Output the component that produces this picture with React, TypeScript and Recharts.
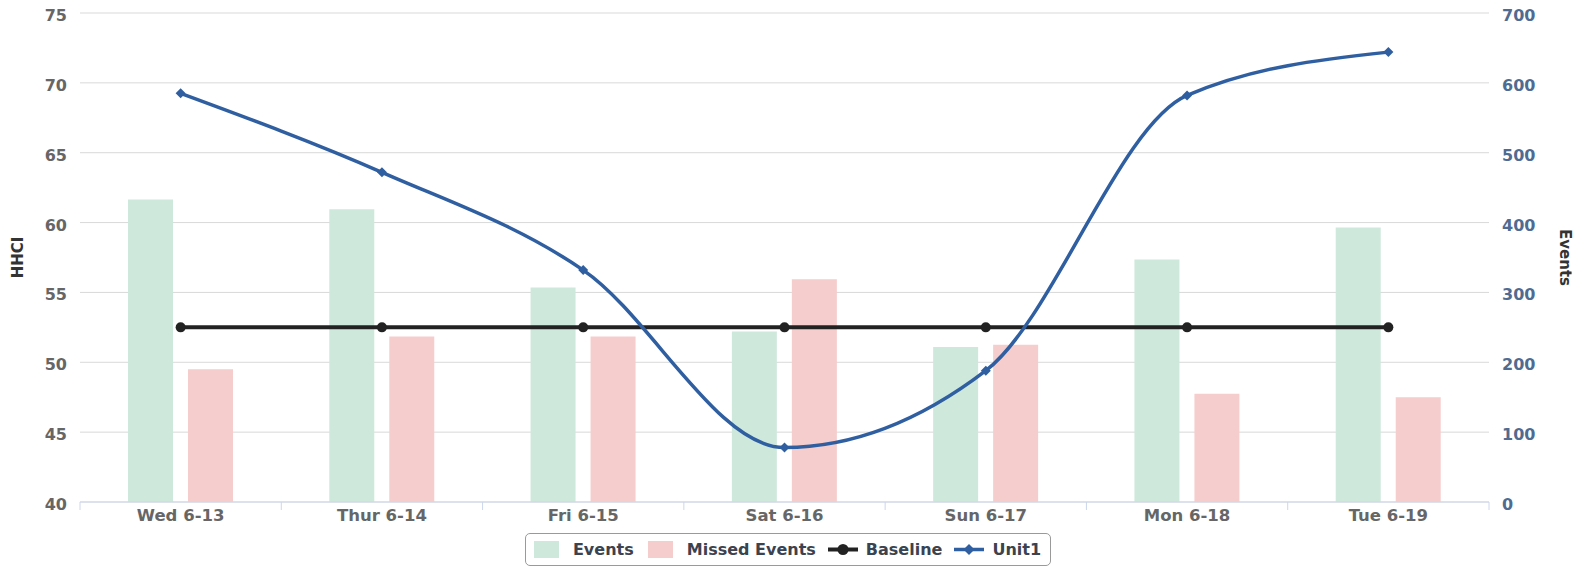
import React from 'react';
import { ComposedChart, Bar, Line, XAxis, YAxis, CartesianGrid } from 'recharts';

const categories = ['Wed 6-13', 'Thur 6-14', 'Fri 6-15', 'Sat 6-16', 'Sun 6-17', 'Mon 6-18', 'Tue 6-19'];
const eventsValues = [433, 419, 307, 244, 222, 347, 393];
const missedEventsValues = [190, 237, 237, 319, 225, 155, 150];
const baselineValues = [52.5, 52.5, 52.5, 52.5, 52.5, 52.5, 52.5];
const unit1Values = [69.25, 63.6, 56.6, 43.9, 49.4, 69.1, 72.2];
const hhciTicks = [40, 45, 50, 55, 60, 65, 70, 75];
const eventsTicks = [0, 100, 200, 300, 400, 500, 600, 700];

const data = categories.map((c, i) => ({
  name: c,
  events: eventsValues[i],
  missed: missedEventsValues[i],
  baseline: baselineValues[i],
  unit1: unit1Values[i],
}));

const W = 1576;
const H = 567;
const LEFT_W = 80;
const RIGHT_W = 87;
const PLOT_W = W - LEFT_W - RIGHT_W;
const HALF_BAND = PLOT_W / categories.length / 2;

const FONT = '"DejaVu Sans", Verdana, sans-serif';
const GREEN = '#cfe8dc';
const PINK = '#f6cdcd';
const BLUE = '#2f5fa0';
const BLACK = '#222222';

const XTick = (props: any) => {
  const { x, y, payload, index } = props;
  const last = index === categories.length - 1;
  return (
    <g>
      <line x1={x - HALF_BAND} x2={x - HALF_BAND} y1={y} y2={y + 8} stroke="#ccd6eb" strokeWidth={1} />
      {last && <line x1={x + HALF_BAND} x2={x + HALF_BAND} y1={y} y2={y + 8} stroke="#ccd6eb" strokeWidth={1} />}
      <text x={x} y={y + 19} textAnchor="middle" fontFamily={FONT} fontWeight="bold" fontSize={16.5} fill="#666666">
        {payload.value}
      </text>
    </g>
  );
};

const LeftTick = (props: any) => {
  const { x, y, payload } = props;
  return (
    <text x={x} y={y + 8} textAnchor="end" fontFamily={FONT} fontWeight="bold" fontSize={16} fill="#666666">
      {payload.value}
    </text>
  );
};

const RightTick = (props: any) => {
  const { x, y, payload } = props;
  return (
    <text x={x} y={y + 8} textAnchor="start" fontFamily={FONT} fontWeight="bold" fontSize={16} fill="#4f6b91">
      {payload.value}
    </text>
  );
};

const LeftTitle = (props: any) => {
  const vb = props.viewBox;
  const cx = 18;
  const cy = vb.y + vb.height / 2;
  return (
    <text x={cx} y={cy} transform={`rotate(-90 ${cx} ${cy})`} textAnchor="middle" dominantBaseline="central"
      fontFamily={FONT} fontWeight="bold" fontSize={15} fill="#333333">HHCI</text>
  );
};

const RightTitle = (props: any) => {
  const vb = props.viewBox;
  const cx = vb.x + vb.width - 11;
  const cy = vb.y + vb.height / 2;
  return (
    <text x={cx} y={cy} transform={`rotate(90 ${cx} ${cy})`} textAnchor="middle" dominantBaseline="central"
      fontFamily={FONT} fontWeight="bold" fontSize={15} fill="#333333">Events</text>
  );
};

const Diamond = (props: any) => {
  const { cx, cy } = props;
  if (cx == null || cy == null) return null;
  const r = 5;
  return <path d={`M${cx},${cy - r}L${cx + r},${cy}L${cx},${cy + r}L${cx - r},${cy}Z`} fill={BLUE} />;
};

const CircleDot = (props: any) => {
  const { cx, cy } = props;
  if (cx == null || cy == null) return null;
  return <circle cx={cx} cy={cy} r={5} fill={BLACK} />;
};

const legendItems = [
  { label: 'Events', kind: 'bar', color: GREEN },
  { label: 'Missed Events', kind: 'bar', color: PINK },
  { label: 'Baseline', kind: 'circle', color: BLACK },
  { label: 'Unit1', kind: 'diamond', color: BLUE },
];

const LegendSymbol = ({ kind, color }: { kind: string; color: string }) => {
  if (kind === 'bar') {
    return (
      <svg width={25} height={17} style={{ display: 'block' }}>
        <rect x={0} y={0} width={25} height={17} fill={color} />
      </svg>
    );
  }
  return (
    <svg width={30} height={17} style={{ display: 'block' }}>
      <line x1={0} x2={30} y1={8.5} y2={8.5} stroke={color} strokeWidth={kind === 'circle' ? 4 : 3.5} />
      {kind === 'circle' ? (
        <circle cx={15} cy={8.5} r={5.5} fill={color} />
      ) : (
        <path d="M15,3L20.5,8.5L15,14L9.5,8.5Z" fill={color} />
      )}
    </svg>
  );
};

export default function App() {
  return (
    <div style={{ position: 'relative', width: W, height: H, overflow: 'hidden' }}>
      <style>{'body{margin:0;}'}</style>
      <ComposedChart width={W} height={H} data={data} margin={{ top: 13, right: 0, bottom: 35, left: 0 }} barGap={15}>
        <CartesianGrid yAxisId="left" vertical={false} stroke="#d9d9d9" />
        <XAxis dataKey="name" height={30} tickSize={0} tickMargin={0} tick={<XTick />} axisLine={{ stroke: '#ccd6eb' }} tickLine={false} interval={0} />
        <YAxis yAxisId="left" width={LEFT_W} domain={[40, 75]} ticks={hhciTicks} axisLine={false} tickLine={false}
          tickSize={0} tickMargin={13} tick={<LeftTick />} label={<LeftTitle />} interval={0} />
        <YAxis yAxisId="right" orientation="right" width={RIGHT_W} domain={[0, 700]} ticks={eventsTicks} axisLine={false}
          tickLine={false} tickSize={0} tickMargin={13} tick={<RightTick />} label={<RightTitle />} interval={0} />
        <Bar yAxisId="right" dataKey="events" name="Events" fill={GREEN} barSize={45} isAnimationActive={false} />
        <Bar yAxisId="right" dataKey="missed" name="Missed Events" fill={PINK} barSize={45} isAnimationActive={false} />
        <Line yAxisId="left" type="linear" dataKey="baseline" name="Baseline" stroke={BLACK} strokeWidth={4}
          dot={(p: any) => <CircleDot key={`b-${p.index}`} {...p} />} activeDot={false} isAnimationActive={false} />
        <Line yAxisId="left" type="monotone" dataKey="unit1" name="Unit1" stroke={BLUE} strokeWidth={3.5}
          dot={(p: any) => <Diamond key={`u-${p.index}`} {...p} />} activeDot={false} isAnimationActive={false} />
      </ComposedChart>
      <div style={{ position: 'absolute', left: 0, width: W, top: 533, display: 'flex', justifyContent: 'center' }}>
        <div style={{
          display: 'flex', alignItems: 'center', border: '1px solid #9a9a9a', borderRadius: 5, height: 33,
          padding: '0 9px 0 8px', background: '#fff', boxSizing: 'border-box', fontFamily: FONT, fontWeight: 'bold',
          fontSize: 16, color: '#3b4250',
        }}>
          {legendItems.map((it, i) => (
            <div key={it.label} style={{ display: 'flex', alignItems: 'center', marginLeft: i === 0 ? 0 : (it.kind === 'bar' ? 14 : 12) }}>
              <LegendSymbol kind={it.kind} color={it.color} />
              <span style={{ marginLeft: it.kind === 'bar' ? 14 : 8 }}>{it.label}</span>
            </div>
          ))}
        </div>
      </div>
    </div>
  );
}
